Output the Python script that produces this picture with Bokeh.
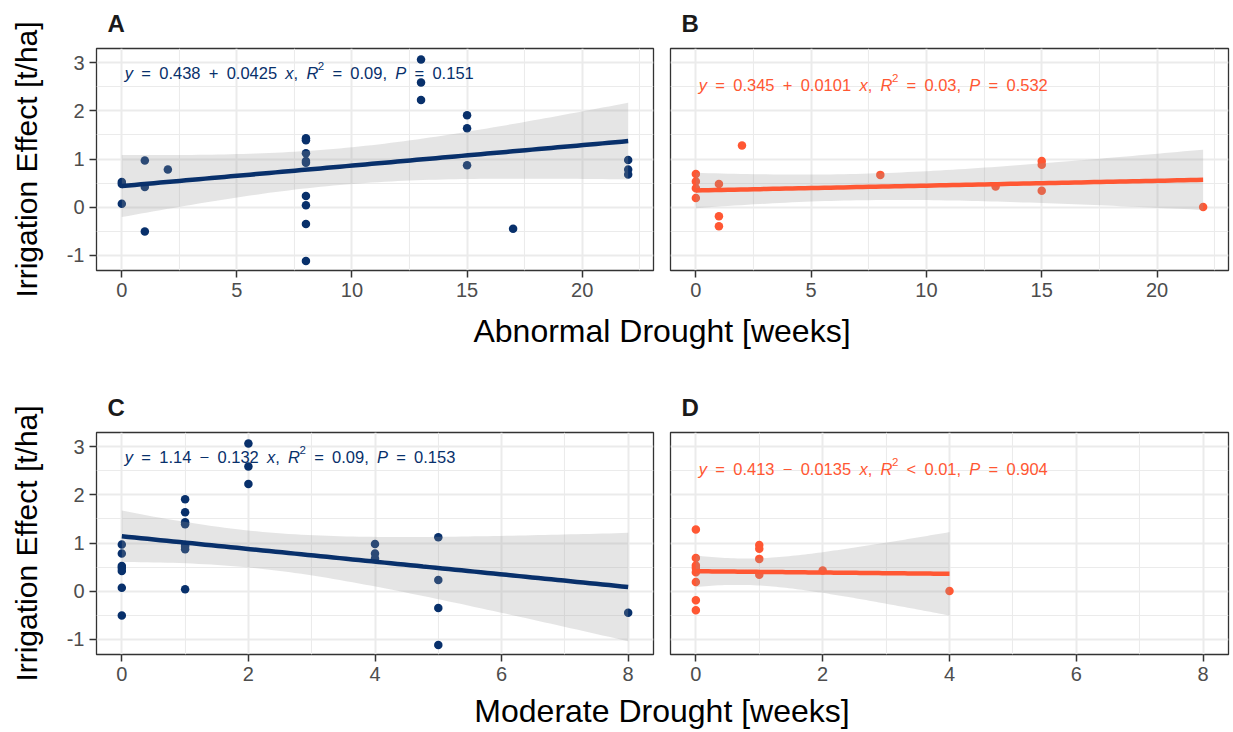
import numpy as np
from math import gamma, sqrt, pi
from bokeh.plotting import figure
from bokeh.models import ColumnDataSource, Range1d, FixedTicker
from bokeh.layouts import column, row
from bokeh.embed import file_html
from bokeh.resources import INLINE
from bokeh.core.properties import value

# ---------------- data ----------------
# dark-blue series
blue_effect = [0.52, 0.48, 0.07, 0.97, 0.42, -0.51, 0.78, 1.43, 1.39, 1.12, 0.96, 0.92, 0.23,
               0.04, -0.35, -1.12, 3.07, 2.59, 2.23, 1.91, 1.64, 0.87, -0.45, 0.98, 0.78, 0.68]
blue_abnormal = [0, 0, 0, 1, 1, 1, 2, 8, 8, 8, 8, 8, 8, 8, 8, 8, 13, 13, 13, 15, 15, 15, 17, 22, 22, 22]
blue_moderate = [0, 0, 0, 0, 0, 0, 0, 1, 1, 5, 1, 1, 5, 1, 5, 5, 2, 2, 2, 1, 1, 1, 8, 4, 4, 4]

# orange series
orange_effect = [0.69, 0.53, 0.39, 0.19, 0.48, -0.19, -0.40, 1.28, 0.67, 0.43, 0.96, 0.88, 0.34, 0.00]
orange_abnormal = [0, 0, 0, 0, 1, 1, 1, 2, 8, 13, 15, 15, 15, 22]
orange_moderate = [0, 0, 0, 0, 0, 0, 0, 0, 1, 2, 1, 1, 1, 4]

# fitted lines (as printed in the panels)
panel_letters = ["A", "B", "C", "D"]
fit_intercepts = [0.438, 0.345, 1.14, 0.413]
fit_slopes = [0.0425, 0.0101, -0.132, -0.0135]
intercept_labels = ["0.438", "0.345", "1.14", "0.413"]
slope_labels = ["0.0425", "0.0101", "0.132", "0.0135"]
r2_relations = ["=", "=", "=", "<"]
r2_labels = ["0.09", "0.03", "0.09", "0.01"]
p_labels = ["0.151", "0.532", "0.153", "0.904"]

abnormal_ticks = [0, 5, 10, 15, 20]
abnormal_minor = [2.5, 7.5, 12.5, 17.5, 22.5]
moderate_ticks = [0, 2, 4, 6, 8]
moderate_minor = [1, 3, 5, 7]
effect_ticks = [-1, 0, 1, 2, 3]
effect_tick_labels = ["-1", "0", "1", "2", "3"]
effect_minor = [-0.5, 0.5, 1.5, 2.5]

BLUE = "#08306B"
ORANGE = "#FF5733"
FONT = "Liberation Sans"
EN = "\u2002"

# ---------------- helpers ----------------
def t975(df):
    c = gamma((df + 1) / 2) / (sqrt(df * pi) * gamma(df / 2))
    xs = np.linspace(0, 8, 80001)
    pdf = c * (1 + xs ** 2 / df) ** (-(df + 1) / 2)
    cdf = 0.5 + np.concatenate([[0], np.cumsum((pdf[1:] + pdf[:-1]) / 2 * (xs[1] - xs[0]))])
    return float(xs[np.searchsorted(cdf, 0.975)])

W = {"0": .556, "1": .556, "2": .556, "3": .556, "4": .556, "5": .556, "6": .556, "7": .556,
     "8": .556, "9": .556, ".": .278, ",": .278, "=": .584, "+": .584, "\u2212": .584, "<": .584,
     EN: .5, "x": .5, "y": .5, "R": .722, "P": .667, " ": .278}

def twidth(s, fs):
    return sum(W.get(ch, .556) for ch in s) * fs

def label_source(i, x0, y0):
    fs = 16.5
    sup_fs = 11.5
    base = -6
    sign = "+" if fit_slopes[i] >= 0 else "\u2212"
    runs = [
        ("y", "italic", fs, 0),
        (f"{EN}={EN}{intercept_labels[i]}{EN}{sign}{EN}{slope_labels[i]}{EN}", "normal", fs, 0),
        ("x", "italic", fs, 0),
        ("," + EN, "normal", fs, 0),
        ("R", "italic", fs, 0),
        ("2", "normal", sup_fs, -7),
        (f"{EN}{r2_relations[i]}{EN}{r2_labels[i]},{EN}", "normal", fs, 0),
        ("P", "italic", fs, 0),
        (f"{EN}={EN}{p_labels[i]}", "normal", fs, 0),
    ]
    xs, ys, txt, sty, fss, xo, yo = [], [], [], [], [], [], []
    cur = 3.0
    for t, st, f, dy in runs:
        xs.append(x0); ys.append(y0); txt.append(t); sty.append(st)
        fss.append(f"{f}px"); xo.append(cur); yo.append(base + dy)
        adv = twidth(t, f)
        if t == "R":
            adv -= 0.5
        cur += adv
    return ColumnDataSource(dict(x=xs, y=ys, text=txt, style=sty, fs=fss, xo=xo, yo=yo))


def panel(i, xs, ys, color, xr, ticks, minor, width, bl, br, height, bt, bb, show_y, label_y):
    p = figure(width=width, height=height, x_range=Range1d(*xr), y_range=Range1d(-1.32, 3.30),
               output_backend="svg", toolbar_location=None,
               min_border_left=bl, min_border_right=br, min_border_top=bt, min_border_bottom=bb,
               title=panel_letters[i])
    p.title.text_font = FONT
    p.title.text_font_size = "24px"
    p.title.text_font_style = "bold"
    p.title.text_color = "#1A1A1A"
    p.title.align = "left"
    p.title.offset = 11
    p.title.vertical_align = "top"
    p.title.standoff = 19

    p.outline_line_color = "#333333"
    p.outline_line_width = 1.3
    p.background_fill_color = "white"

    xt = FixedTicker(ticks=ticks, minor_ticks=minor)
    yt = FixedTicker(ticks=effect_ticks, minor_ticks=effect_minor)
    p.xaxis.ticker = xt
    p.yaxis.ticker = yt
    p.yaxis.major_label_overrides = {t: s for t, s in zip(effect_ticks, effect_tick_labels)}
    p.xgrid.ticker = xt
    p.ygrid.ticker = yt
    for g in (p.xgrid, p.ygrid):
        g.grid_line_color = "#EBEBEB"
        g.grid_line_width = 2
        g.minor_grid_line_color = "#EBEBEB"
        g.minor_grid_line_width = 1.1

    for ax in (p.xaxis, p.yaxis):
        ax.axis_line_color = None
        ax.major_tick_out = 7
        ax.major_tick_in = 0
        ax.major_tick_line_color = "#333333"
        ax.major_tick_line_width = 1.5
        ax.minor_tick_line_color = None
        ax.major_label_text_font = FONT
        ax.major_label_text_font_size = "20px"
        ax.major_label_text_color = "#4D4D4D"
        ax.major_label_standoff = 5

    if show_y:
        p.yaxis.axis_label = "Irrigation Effect [t/ha]"
        p.yaxis.axis_label_text_font = FONT
        p.yaxis.axis_label_text_font_size = "30px"
        p.yaxis.axis_label_text_font_style = "normal"
        p.yaxis.axis_label_text_color = "black"
        p.yaxis.axis_label_standoff = 21
    else:
        p.yaxis.visible = False

    xa = np.asarray(xs, float)
    ya = np.asarray(ys, float)
    b0, b1 = fit_intercepts[i], fit_slopes[i]
    n = len(xa)
    resid = ya - (b0 + b1 * xa)
    s = np.sqrt(np.sum(resid ** 2) / (n - 2))
    xbar = xa.mean()
    sxx = np.sum((xa - xbar) ** 2)
    xg = np.linspace(xa.min(), xa.max(), 80)
    yg = b0 + b1 * xg
    half = t975(n - 2) * s * np.sqrt(1 / n + (xg - xbar) ** 2 / sxx)

    p.scatter(xa, ya, size=8.5, fill_color=color, line_color=None)
    p.varea(x=xg, y1=yg - half, y2=yg + half, fill_color="#999999", fill_alpha=0.25)
    p.line(xg, yg, line_width=4.5, line_color=color)

    src = label_source(i, 0, label_y)
    p.text(x="x", y="y", text="text", source=src, x_offset="xo", y_offset="yo",
           text_font=value(FONT), text_font_style="style", text_font_size="fs",
           text_color=color, text_baseline="alphabetic", text_align="left")
    return p


def title_fig(text, h, baseline_from_top):
    t = figure(width=1233, height=h, x_range=Range1d(0, 1233), y_range=Range1d(0, h),
               output_backend="svg", toolbar_location=None, min_border=0,
               x_axis_location=None, y_axis_location=None, title=None)
    t.grid.visible = False
    t.outline_line_color = None
    t.text(x=[661.5], y=[h - baseline_from_top], text=[text], text_align="center",
           text_baseline="alphabetic", text_font=value(FONT), text_font_size="32px",
           text_color="black")
    return t


ab_range = (-1.1, 23.1)
mo_range = (-0.4, 8.4)

pA = panel(0, blue_abnormal, blue_effect, BLUE, ab_range, abnormal_ticks, abnormal_minor,
           661, 96, 8, 308, 47, 38, True, 2.66)
pB = panel(1, orange_abnormal, orange_effect, ORANGE, ab_range, abnormal_ticks, abnormal_minor,
           572, 9, 5, 308, 47, 38, False, 2.42)
pC = panel(2, blue_moderate, blue_effect, BLUE, mo_range, moderate_ticks, moderate_minor,
           661, 96, 8, 312, 52, 38, True, 2.66)
pD = panel(3, orange_moderate, orange_effect, ORANGE, mo_range, moderate_ticks, moderate_minor,
           572, 9, 5, 312, 52, 38, False, 2.42)

t1 = title_fig("Abnormal Drought [weeks]", 72, 22)
t2 = title_fig("Moderate Drought [weeks]", 40, 18)

layout = column(row(pA, pB), t1, row(pC, pD), t2)
open("out.html", "w").write(file_html(layout, INLINE))
